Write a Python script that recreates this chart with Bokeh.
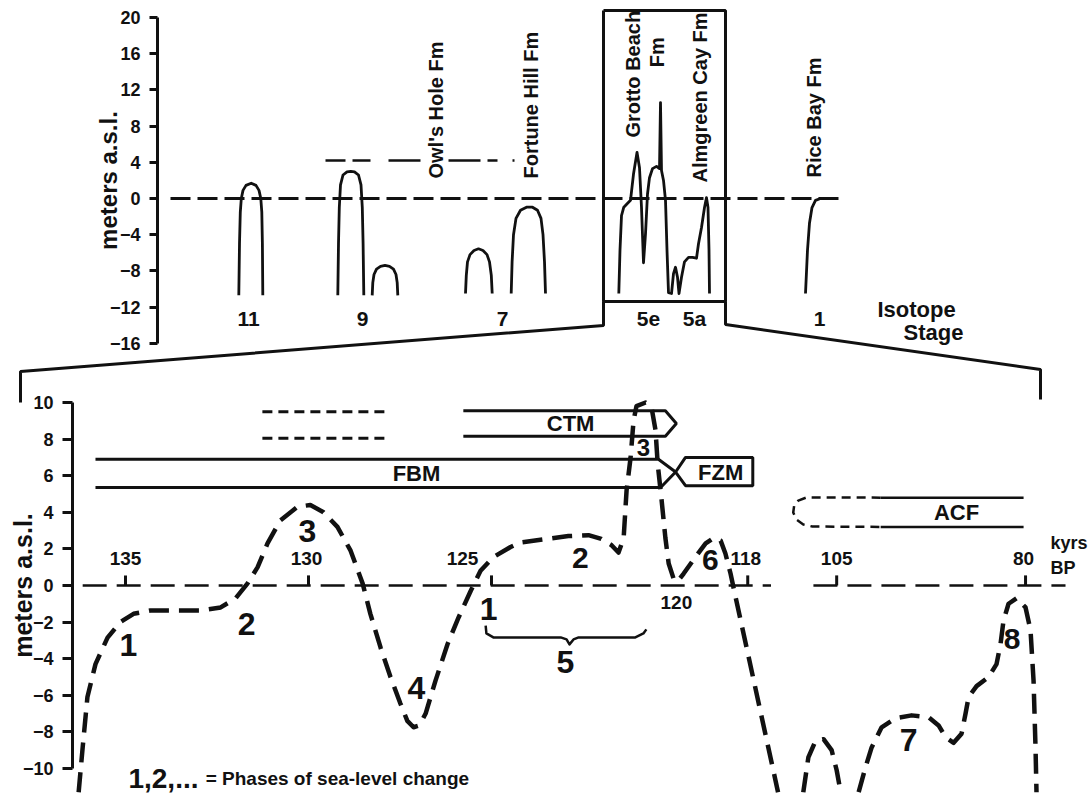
import numpy as np
from bokeh.plotting import figure
from bokeh.models import Range1d, LinearAxis, FixedTicker
from bokeh.core.properties import value
from bokeh.embed import file_html
from bokeh.resources import INLINE

INK = "#111111"
FONT = value("Liberation Sans")

# ------------------------------------------------------------------
# UPPER PANEL  (x: schematic position along the isotope-stage sketch,
#               y: metres above sea level)
# ------------------------------------------------------------------
UP_ZERO_X = [17.0, 83.8]
UP_FORM_X = [32.5, 51.4]
UP_FORM_Y = [4.2, 4.2]

ST11_X = [23.83, 23.9, 23.98, 24.08, 24.25, 24.55, 25.07, 25.55, 25.85, 26.03, 26.13, 26.19, 26.23]
ST11_Y = [-10.7, -5.0, -1.5, 0.0, 0.9, 1.45, 1.69, 1.45, 0.9, 0.0, -1.5, -5.0, -10.7]
ST9_X = [33.73, 33.8, 33.88, 34.0, 34.25, 34.65, 35.03, 35.4, 35.8, 36.05, 36.18, 36.26, 36.33]
ST9_Y = [-10.7, -5.0, -1.0, 1.5, 2.6, 2.95, 3.0, 2.95, 2.6, 1.5, -1.0, -5.0, -10.7]
ST9B_X = [37.17, 37.23, 37.35, 37.6, 38.0, 38.45, 38.9, 39.3, 39.55, 39.67, 39.73]
ST9B_Y = [-10.7, -9.3, -8.4, -7.8, -7.5, -7.4, -7.5, -7.8, -8.4, -9.3, -10.7]
ST7A_X = [46.5, 46.58, 46.7, 46.95, 47.35, 47.8, 48.25, 48.65, 48.9, 49.08, 49.17]
ST7A_Y = [-10.5, -8.5, -7.0, -6.2, -5.75, -5.56, -5.75, -6.2, -7.0, -8.5, -10.5]
ST7B_X = [51.07, 51.16, 51.3, 51.55, 52.0, 52.6, 53.2, 53.7, 54.05, 54.25, 54.4, 54.5]
ST7B_Y = [-10.5, -7.0, -4.0, -2.2, -1.3, -0.96, -0.96, -1.3, -2.2, -4.0, -7.0, -10.5]
ST5_X = [61.83, 61.95, 62.1, 62.33, 63.0, 63.3, 63.65, 63.9, 64.1, 64.3, 64.5, 64.7, 64.9,
         65.2, 65.6, 65.9, 66.0, 66.1, 66.3, 66.5, 66.65, 66.8, 67.1, 67.3, 67.5, 67.7,
         67.85, 68.1, 68.4, 68.8, 69.2, 69.6, 69.8, 70.1, 70.4, 70.6, 70.75, 70.85, 70.9]
ST5_Y = [-10.5, -5.7, -1.9, -0.96, -0.2, 2.7, 5.1, 3.4, -1.0, -7.1, -3.9, 0.5, 2.3,
         3.3, 3.55, 3.3, 10.6, 3.1, 2.0, -0.2, -5.7, -10.4, -10.5, -8.3, -7.6, -8.7,
         -10.5, -8.7, -7.0, -6.5, -6.5, -6.6, -5.0, -3.2, -1.0, 0.1, -1.0, -5.7, -10.5]
ST1_X = [80.5, 80.7, 80.9, 81.15, 81.5, 82.0, 82.3]
ST1_Y = [-10.5, -5.7, -2.7, -1.0, -0.2, 0.0, 0.0]

BOX_X = [60.3, 72.5, 72.5, 60.3, 60.3]
BOX_Y = [20.77, 20.77, -11.38, -11.38, 20.77]
LINK_L_X = [60.3, 60.3, 2.0, 2.0]
LINK_L_Y = [-11.38, -14.03, -19.12, -22.54]
LINK_R_X = [72.5, 72.5, 104.0, 104.0]
LINK_R_Y = [-11.38, -13.92, -18.90, -22.21]

FORM_NAMES = ["Owl's Hole Fm", "Fortune Hill Fm", "Grotto Beach", "Fm", "Almgreen Cay Fm", "Rice Bay Fm"]
FORM_X = [43.5, 53.0, 63.2, 65.6, 69.9, 81.3]
FORM_Y = [2.21, 2.21, 6.74, 14.5, 1.77, 2.32]

STAGE_NAMES = ["11", "9", "7", "5e", "5a", "1"]
STAGE_X = [24.8, 36.2, 50.2, 64.8, 69.4, 81.9]
STAGE_Y = [-13.3] * 6

UP_TICKS = [-16, -12, -8, -4, 0, 4, 8, 12, 16, 20]

# ------------------------------------------------------------------
# LOWER PANEL  (x: age in kyrs BP on a broken axis, y: metres a.s.l.)
# ------------------------------------------------------------------
AXIS_AGES = [135, 118, 105, 80]          # anchor ages of the broken time axis
AXIS_POS = [0.0, 17.0, 19.43, 24.59]     # their positions along the axis

CURVE_A_AGE = [136.28, 136.17, 136.04, 135.82, 135.49, 135.14, 134.78, 134.32, 132.95, 132.40,
               131.99, 131.67, 131.39, 131.12, 130.77, 130.30, 129.95, 129.59, 129.21, 128.85,
               128.52, 128.31, 128.03, 127.76, 127.49, 127.30, 127.13, 126.97, 126.80, 126.53,
               126.20, 125.90, 125.57, 125.30, 124.95, 124.48, 124.21, 122.90, 122.35, 122.0,
               121.72, 121.53, 121.39, 121.31, 121.20, 121.12, 121.04, 120.79, 120.63, 120.52,
               120.46, 120.36, 120.25, 120.16, 120.03, 119.92, 119.75, 119.43, 119.15, 118.93,
               118.74, 118.61, 118.47, 118.39, 113.57]
CURVE_A_M = [-11.3, -8.85, -6.1, -4.3, -2.85, -2.0, -1.55, -1.37, -1.37, -1.2,
             -0.7, 0.1, 1.0, 2.3, 3.55, 4.3, 4.4, 4.0, 3.2, 1.9,
             0.1, -1.55, -3.4, -5.0, -6.45, -7.4, -7.75, -7.65, -7.0, -5.2,
             -3.2, -1.75, -0.3, 0.8, 1.55, 2.1, 2.35, 2.7, 2.75, 2.55,
             2.2, 1.8, 2.6, 5.2, 7.0, 9.0, 9.8, 10.0, 9.75, 8.5,
             6.65, 4.8, 2.6, 1.2, 0.4, 0.2, 0.65, 1.55, 2.3, 2.6,
             2.45, 1.75, 0.65, -0.1, -11.3]
CURVE_B_AGE = [109.88, 109.14, 108.10, 106.92, 105.74, 105.0, 104.47]
CURVE_B_M = [-11.3, -9.4, -8.5, -8.4, -9.0, -10.1, -11.3]
CURVE_C_AGE = [102.09, 101.16, 100.37, 99.05, 97.20, 95.08, 92.83, 91.51, 90.58, 89.52,
               88.47, 87.94, 87.54, 86.48, 84.89, 83.84, 83.31, 82.91, 82.25, 81.19,
               80.0, 79.34, 78.94, 78.68, 78.55]
CURVE_C_M = [-11.3, -9.9, -8.85, -7.75, -7.25, -7.1, -7.2, -7.65, -8.3, -8.6,
             -8.1, -7.0, -6.1, -5.5, -5.0, -4.3, -3.2, -1.9, -1.0, -0.7,
             -1.2, -2.45, -5.2, -8.85, -11.3]

FBM_TOP_AGE = [135.82, 120.44, 119.97]
FBM_TOP_M = [6.9, 6.9, 6.2]
FBM_BOT_AGE = [135.82, 120.38, 119.97]
FBM_BOT_M = [5.35, 5.35, 6.2]
FZM_AGE = [119.97, 119.70, 117.26, 117.26, 119.70, 119.97]
FZM_M = [6.2, 7.0, 7.0, 5.45, 5.45, 6.2]
CTM_AGE = [125.77, 120.25, 119.95, 120.25, 125.77]
CTM_M = [9.55, 9.55, 8.85, 8.15, 8.15]
OLD_AGE = [131.26, 127.81]
OLD_M_HI = [9.5, 9.5]
OLD_M_LO = [8.05, 8.05]
ACF_SOLID_AGE = [99.18, 80.26]
ACF_M_HI = [4.8, 4.8]
ACF_M_LO = [3.2, 3.2]
ACF_DASH_AGE = [99.18, 109.43, 110.61, 111.21, 111.35, 110.91, 109.88, 108.55, 99.18]
ACF_DASH_M = [4.8, 4.81, 4.64, 4.37, 3.99, 3.61, 3.33, 3.22, 3.2]
BRACE_AGE = [125.16, 125.14, 124.95, 123.11, 122.95, 122.87, 122.76, 122.62, 121.07, 120.85, 120.77]
BRACE_M = [-2.19, -2.62, -2.84, -2.84, -2.95, -3.22, -2.95, -2.84, -2.84, -2.62, -2.4]

ZERO_SEG1 = [136.17, 114.6]
ZERO_SEG2 = [108.4, 74.71]
TIME_TICKS = [135, 130, 125, 118, 105, 80]
TIME_LABELS = ["135", "130", "125", "118", "105", "80"]

PHASE_TEXT = ["1", "2", "3", "4", "1", "2", "3", "5", "6", "7", "8"]
PHASE_AGE = [134.92, 131.69, 130.03, 127.05, 125.08, 122.57, 120.85, 122.98, 119.02, 95.48, 81.78]
PHASE_M = [-3.28, -2.08, 3.0, -5.63, -1.31, 1.48, 7.54, -4.2, 1.37, -8.47, -2.9]
PHASE_SIZE = ["32px", "32px", "32px", "32px", "32px", "30px", "24px", "32px", "30px", "32px", "30px"]

BAR_NAMES = ["FBM", "CTM", "FZM", "ACF"]
BAR_AGE = [127.05, 122.84, 118.74, 89.13]
BAR_M = [6.1, 8.85, 6.2, 4.0]

LO_TICKS = [-10, -8, -6, -4, -2, 0, 2, 4, 6, 8, 10]


def pos(ages):
    """Position of ages on the broken time axis (linear extrapolation outside)."""
    a = -np.asarray(ages, float)
    xp = -np.array(AXIS_AGES, float)
    fp = np.array(AXIS_POS, float)
    u = np.interp(a, xp, fp)
    s0 = (fp[1] - fp[0]) / (xp[1] - xp[0])
    s1 = (fp[-1] - fp[-2]) / (xp[-1] - xp[-2])
    u = np.where(a < xp[0], fp[0] + (a - xp[0]) * s0, u)
    u = np.where(a > xp[-1], fp[-1] + (a - xp[-1]) * s1, u)
    return u


W, H = 1088, 793
p = figure(width=W, height=H, output_backend="svg", toolbar_location=None,
           x_axis_type=None, y_axis_type=None,
           x_range=Range1d(-3.415, 26.31), y_range=Range1d(-11.37, 31.97),
           min_border=0, outline_line_color=None, background_fill_color="white",
           border_fill_color="white")
p.grid.visible = False
p.extra_x_ranges = {"top": Range1d(0, 108.8)}
p.extra_y_ranges = {"top": Range1d(-65.75, 21.88)}

T = dict(x_range_name="top", y_range_name="top")


def style_axis(ax, label_size):
    ax.axis_line_width = 3
    ax.axis_line_color = INK
    ax.major_tick_line_width = 3
    ax.major_tick_line_color = INK
    ax.minor_tick_line_color = None
    ax.major_tick_in = 0
    ax.major_label_text_font = "Liberation Sans"
    ax.major_label_text_font_style = "bold"
    ax.major_label_text_font_size = "18px"
    ax.major_label_text_color = INK
    ax.axis_label_text_font = "Liberation Sans"
    ax.axis_label_text_font_style = "bold"
    ax.axis_label_text_font_size = label_size
    ax.axis_label_text_color = INK


# ---- axes
up_axis = LinearAxis(x_range_name="top", y_range_name="top", fixed_location=15.7,
                     bounds=(-16, 20), ticker=FixedTicker(ticks=UP_TICKS),
                     axis_label="meters a.s.l.")
style_axis(up_axis, "24px")
up_axis.major_tick_out = 8
up_axis.major_label_standoff = 9
up_axis.axis_label_standoff = -15
p.add_layout(up_axis, "left")

lo_axis = LinearAxis(fixed_location=-1.448, bounds=(-10, 10),
                     ticker=FixedTicker(ticks=LO_TICKS), axis_label="meters a.s.l.")
style_axis(lo_axis, "25px")
lo_axis.major_tick_out = 10
lo_axis.major_label_standoff = 9
lo_axis.axis_label_standoff = -17
p.add_layout(lo_axis, "left")

# ---- upper panel drawing
p.line(UP_ZERO_X, [0, 0], line_color=INK, line_width=3, line_dash="20 7", **T)
p.line(UP_FORM_X, UP_FORM_Y, line_color=INK, line_width=2.5,
       line_dash="20 7 18 18 32 28 32 7 10 15 2 20", **T)
for xs, ys in [(ST11_X, ST11_Y), (ST9_X, ST9_Y), (ST9B_X, ST9B_Y), (ST7A_X, ST7A_Y),
               (ST7B_X, ST7B_Y), (ST5_X, ST5_Y), (ST1_X, ST1_Y)]:
    p.line(xs, ys, line_color=INK, line_width=2.8, line_join="round", **T)
p.line(BOX_X, BOX_Y, line_color=INK, line_width=3, **T)
p.line(LINK_L_X, LINK_L_Y, line_color=INK, line_width=3, **T)
p.line(LINK_R_X, LINK_R_Y, line_color=INK, line_width=3, **T)

p.text(FORM_X, FORM_Y, text=FORM_NAMES, angle=np.pi / 2, text_align="left",
       text_baseline="middle", text_font=FONT, text_font_style="bold",
       text_font_size="20px", text_color=INK, **T)
p.text(STAGE_X, STAGE_Y, text=STAGE_NAMES, text_align="center", text_baseline="middle",
       text_font=FONT, text_font_style="bold", text_font_size="21px", text_color=INK, **T)
p.text([91.6, 93.3], [-12.27, -14.81], text=["Isotope", "Stage"], text_align="center",
       text_baseline="middle", text_font=FONT, text_font_style="bold",
       text_font_size="22px", text_color=INK, **T)

# ---- lower panel drawing
zero = [0, 0]
p.line(pos(ZERO_SEG1), zero, line_color=INK, line_width=2.5, line_dash="24 10")
p.line(pos(ZERO_SEG2), zero, line_color=INK, line_width=2.5, line_dash="24 10")
tu = pos(TIME_TICKS)
p.segment(x0=tu, y0=[0] * len(tu), x1=tu, y1=[0.55] * len(tu), line_color=INK, line_width=3)

lab_off = [0, -2, -29, -2, 0, -2]
for u, t, off in zip(tu, TIME_LABELS, lab_off):
    p.text([u], [1.45], text=[t], x_offset=off, text_align="center", text_baseline="middle",
           text_font=FONT, text_font_style="bold", text_font_size="19px", text_color=INK)
p.text(pos([119.95]), [-0.93], text=["120"], text_align="center", text_baseline="middle",
       text_font=FONT, text_font_style="bold", text_font_size="19px", text_color=INK)
p.text(pos([76.69, 76.69]), [2.3, 0.98], text=["kyrs", "BP"], text_align="left",
       text_baseline="middle", text_font=FONT, text_font_style="bold",
       text_font_size="18px", text_color=INK)

# reference formations (bars)
p.line(pos(FBM_TOP_AGE), FBM_TOP_M, line_color=INK, line_width=3)
p.line(pos(FBM_BOT_AGE), FBM_BOT_M, line_color=INK, line_width=3)
p.line(pos(FZM_AGE), FZM_M, line_color=INK, line_width=3)
p.line(pos(CTM_AGE), CTM_M, line_color=INK, line_width=3)
p.line(pos(OLD_AGE), OLD_M_HI, line_color=INK, line_width=3, line_dash="10 6")
p.line(pos(OLD_AGE), OLD_M_LO, line_color=INK, line_width=3, line_dash="10 6")
p.line(pos(ACF_SOLID_AGE), ACF_M_HI, line_color=INK, line_width=2.5)
p.line(pos(ACF_SOLID_AGE), ACF_M_LO, line_color=INK, line_width=2.5)
p.line(pos(ACF_DASH_AGE), ACF_DASH_M, line_color=INK, line_width=2.5, line_dash="9 6")
p.text(pos(BAR_AGE), BAR_M, text=BAR_NAMES, text_align="center", text_baseline="middle",
       text_font=FONT, text_font_style="bold", text_font_size="22px", text_color=INK)

# sea-level curve
for ages, ms in [(CURVE_A_AGE, CURVE_A_M), (CURVE_B_AGE, CURVE_B_M), (CURVE_C_AGE, CURVE_C_M)]:
    p.line(pos(ages), ms, line_color=INK, line_width=4.5, line_dash="20 10", line_join="round")

p.line(pos(BRACE_AGE), BRACE_M, line_color=INK, line_width=2.5, line_join="round")

for t, a, m, s in zip(PHASE_TEXT, PHASE_AGE, PHASE_M, PHASE_SIZE):
    p.text(pos([a]), [m], text=[t], text_align="center", text_baseline="middle",
           text_font=FONT, text_font_style="bold", text_font_size=s, text_color=INK)

p.text(pos([134.92]), [-10.55], text=["1,2,..."], text_align="left", text_baseline="middle",
       text_font=FONT, text_font_style="bold", text_font_size="28px", text_color=INK)
p.text(pos([132.81]), [-10.55], text=["= Phases of sea-level change"], text_align="left",
       text_baseline="middle", text_font=FONT, text_font_style="bold",
       text_font_size="19px", text_color=INK)

open("out.html", "w").write(file_html(p, INLINE))
